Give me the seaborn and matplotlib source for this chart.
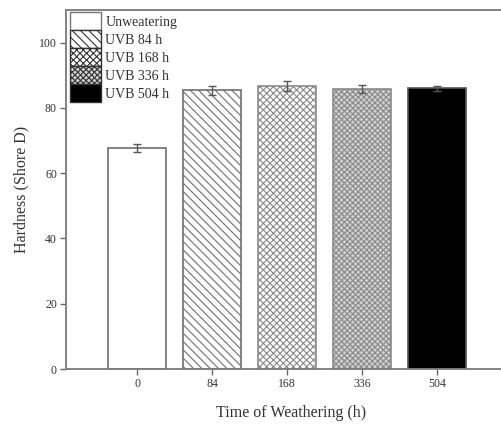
import matplotlib
matplotlib.use("Agg")
import matplotlib.pyplot as plt
from matplotlib.patches import Patch
import seaborn as sns
import pandas as pd

# Hardness after UVB weathering
times = ["0", "84", "168", "336", "504"]
hardness = [67.8, 85.4, 86.8, 85.8, 86.0]
hardness_err = [1.2, 1.3, 1.5, 1.2, 0.8]
legend_labels = ["Unweatering", "UVB 84 h", "UVB 168 h", "UVB 336 h", "UVB 504 h"]

faces = ["white", "white", "white", "#d0d0d0", "black"]
hatches = ["", "\\\\\\\\", "xxxxx", "xxxxxx", ""]
edges = ["#6e6e6e", "#6e6e6e", "#8a8a8a", "#8a8a8a", "#555555"]

sns.set_style("ticks")
plt.rcParams["font.family"] = ["Liberation Serif", "DejaVu Serif"]
plt.rcParams["hatch.linewidth"] = 0.8

df = pd.DataFrame({"time": times, "hardness": hardness})

fig = plt.figure(figsize=(5.01, 4.25), dpi=100)
ax = fig.add_axes([66 / 501, 56 / 425, 450 / 501, 359 / 425])

sns.barplot(data=df, x="time", y="hardness", order=times, width=0.78,
            color="white", errorbar=None, ax=ax)

for patch, fc, h, ec in zip(ax.patches, faces, hatches, edges):
    patch.set_facecolor(fc)
    patch.set_edgecolor(ec)
    patch.set_hatch(h)
    patch.set_linewidth(1.2)

ax.errorbar(range(len(times)), hardness, yerr=hardness_err, fmt="none",
            ecolor="#555555", elinewidth=1.0, capsize=3, capthick=1.0, zorder=5)

ax.set_ylim(0, 110)
ax.set_xlim(-0.947, 5.05)
ax.set_yticks([0, 20, 40, 60, 80, 100])
ax.tick_params(axis="both", direction="out", length=4.5, width=1, colors="#666666",
               labelsize=8.5, labelcolor="#333333", pad=2)

for side in ["left", "bottom", "top"]:
    ax.spines[side].set_visible(True)
    ax.spines[side].set_color("#7a7a7a")
    ax.spines[side].set_linewidth(1.3)
ax.spines["right"].set_visible(False)

ax.set_xlabel("Time of Weathering (h)", fontsize=11.5, color="#333333", labelpad=11)
ax.set_ylabel("Hardness (Shore D)", fontsize=11.5, color="#333333", labelpad=7)

handles = [Patch(facecolor=fc, edgecolor=("#777777" if i == 0 else "#333333"),
                 hatch=h, linewidth=1.0)
           for i, (fc, h) in enumerate(zip(faces, hatches))]
ax.legend(handles, legend_labels, loc="upper left", bbox_to_anchor=(0.009, 0.994),
          frameon=False, fontsize=10, handlelength=2.23, handleheight=1.62,
          labelspacing=0.0, handletextpad=0.3, borderaxespad=0.0, borderpad=0.0,
          labelcolor="#333333")

fig.savefig("out.png", dpi=100)
